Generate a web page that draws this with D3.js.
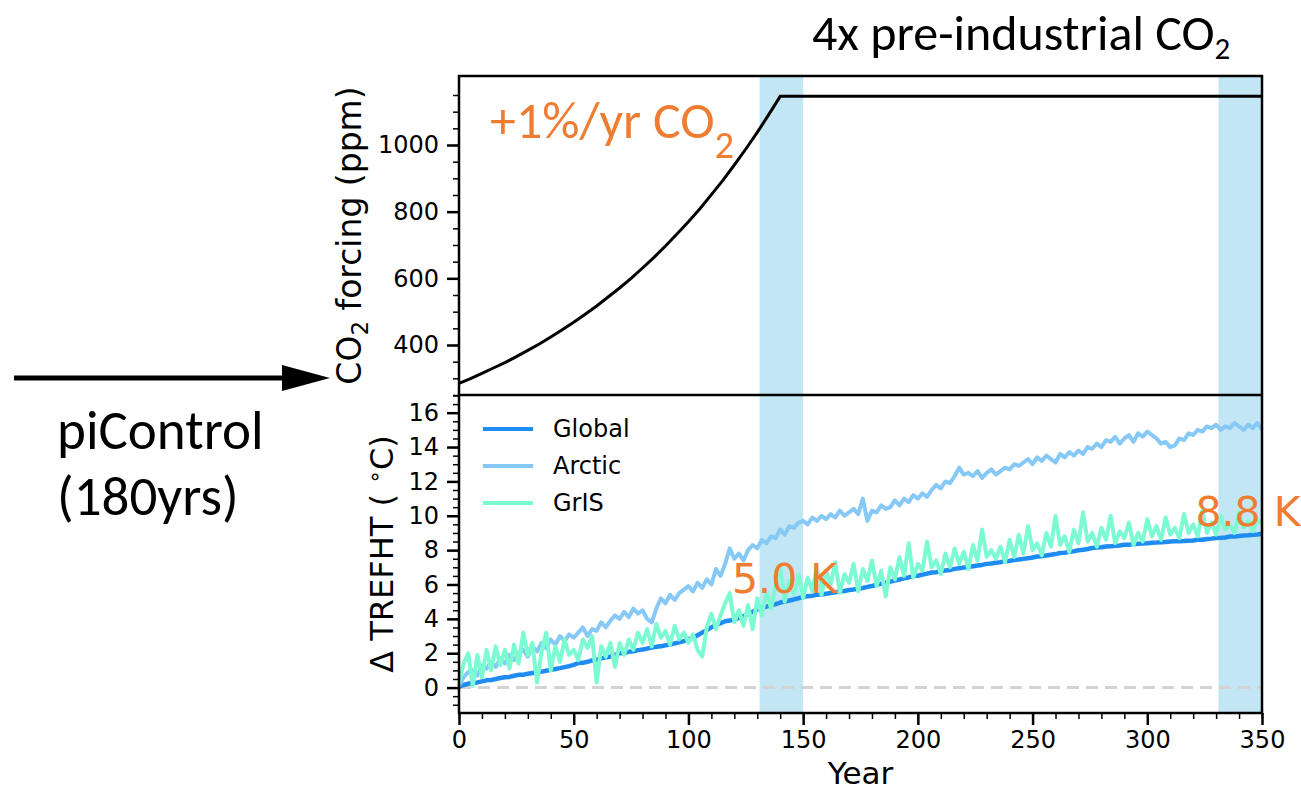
<!DOCTYPE html>
<html>
<head>
<meta charset="utf-8">
<script src="https://cdn.jsdelivr.net/npm/d3@7"></script>
<style>
  body { margin: 0; background: #fff; }
  svg { display: block; }
</style>
</head>
<body>
<div id="chart"></div>
<script>
// ---- data ----
var co2Years = [0, 5, 10, 15, 20, 25, 30, 35, 40, 45, 50, 55, 60, 65, 70, 75, 80, 85, 90, 95,
  100, 105, 110, 115, 120, 125, 130, 135, 140, 350];
var co2Ppm = [285, 299, 315, 331, 347, 365, 384, 403, 424, 446, 468, 492, 517, 544, 571, 600,
  631, 663, 697, 733, 770, 809, 851, 894, 940, 988, 1038, 1091, 1146, 1146];

// annual means sampled every 2 years (0, 2, ... 350)
var globalTemp = [
  0.05, 0.15, 0.22, 0.28, 0.3, 0.36, 0.42, 0.44, 0.5, 0.56, 0.6,
  0.62, 0.69, 0.74, 0.75, 0.81, 0.85, 0.88, 0.93, 0.98, 1.03, 1.08, 1.13, 1.19, 1.25, 1.32,
  1.43, 1.44, 1.5, 1.58, 1.61, 1.7, 1.76, 1.81, 1.9, 2.0, 2.01, 2.08, 2.11, 2.18, 2.21, 2.27, 2.33, 2.37, 2.4, 2.46, 2.5, 2.57, 2.63, 2.7, 2.8,
  2.9, 3.05, 3.2, 3.34, 3.5, 3.66, 3.74, 3.86, 3.9, 3.96, 4.06, 4.14, 4.3, 4.41, 4.54, 4.64, 4.71, 4.79, 4.86, 4.95, 5.01, 5.07, 5.13, 5.2, 5.28,
  5.31, 5.34, 5.41, 5.42, 5.46, 5.5, 5.54, 5.61, 5.62, 5.68, 5.71, 5.76, 5.8,
  5.86, 5.91, 6.0, 6.04, 6.11, 6.17, 6.23, 6.29, 6.36, 6.41, 6.49, 6.51, 6.58, 6.63, 6.7,
  6.71, 6.78, 6.81, 6.84, 6.91, 6.94, 6.99, 7.01, 7.06, 7.1, 7.14, 7.2, 7.22, 7.27,
  7.3, 7.36, 7.37, 7.43, 7.45, 7.49, 7.53, 7.57, 7.63, 7.65, 7.69, 7.73, 7.77, 7.83, 7.85, 7.9, 7.94, 7.99, 8.02, 8.07, 8.12,
  8.15, 8.17, 8.21, 8.22, 8.26, 8.27, 8.31, 8.32, 8.34, 8.37, 8.38, 8.4, 8.43, 8.44, 8.46, 8.47, 8.5, 8.51, 8.52, 8.53, 8.55,
  8.56, 8.6, 8.61, 8.65, 8.67, 8.71, 8.72, 8.74, 8.79, 8.8, 8.82, 8.85, 8.86, 8.89, 8.91, 8.95
];
var arcticTemp = [
  0.1, 0.6, 0.9, 1.0, 0.7, 1.3, 1.1, 1.5, 1.2, 1.7, 1.4,
  1.9, 1.6, 2.0, 2.2, 1.8, 2.4, 2.1, 2.6, 2.3, 2.8, 2.5, 3.0, 2.7, 3.1, 2.9,
  3.2, 3.5, 3.0, 3.4, 3.3, 3.8, 3.5, 3.9, 4.2, 4.0, 4.4, 4.1, 4.6, 4.3, 4.5, 4.0, 3.8, 4.6, 5.2, 4.9, 5.4, 5.1, 5.5, 5.7, 5.9,
  5.6, 6.1, 5.8, 6.3, 6.0, 6.9, 6.5, 7.2, 8.1, 7.5, 7.8, 7.4, 8.0, 8.3, 8.1, 8.6, 8.4, 8.8, 8.7, 9.2, 8.9, 9.4, 9.3, 9.6, 9.7,
  9.5, 9.9, 9.7, 10.0, 9.8, 10.1, 9.9, 10.3, 10.0, 10.2, 10.4, 10.1, 11.0,
  9.7, 10.3, 10.2, 10.6, 10.4, 10.5, 10.9, 10.6, 11.0, 10.8, 11.2, 11.0, 11.3, 11.1, 11.5,
  11.8, 11.6, 12.0, 11.9, 12.3, 12.8, 12.4, 12.5, 12.3, 12.6, 12.2, 12.5, 12.7, 12.4,
  12.6, 12.8, 12.7, 13.0, 12.9, 13.1, 13.3, 13.0, 13.4, 13.2, 13.5, 13.3, 13.1, 13.6, 13.4, 13.7, 13.5, 13.8, 13.6, 14.0, 13.9,
  14.2, 14.0, 14.4, 14.3, 14.6, 14.2, 14.5, 14.7, 14.3, 14.8, 14.6, 14.9, 14.7, 14.5, 14.2, 14.3, 14.0, 14.1, 14.5, 14.4, 14.8,
  14.7, 15.0, 14.9, 15.2, 15.1, 15.3, 15.0, 15.2, 15.1, 15.4, 15.2, 15.0, 15.3, 15.1, 15.4, 15.0
];
var grisTemp = [
  0.2, 1.4, 2.0, 0.1, 1.9, 0.6, 2.2, 1.0, 2.4, 1.3, 2.2,
  1.1, 2.5, 1.4, 3.2, 1.9, 2.6, 0.3, 2.1, 3.2, 1.0, 2.4, 1.5, 2.8, 1.9, 2.2,
  1.6, 2.8, 2.3, 3.0, 0.3, 2.4, 1.8, 2.6, 1.2, 2.6, 1.9, 2.8, 2.2, 3.2, 2.6, 3.4, 2.4, 3.7, 2.9, 3.3, 2.5, 3.6, 2.8, 3.2, 2.6,
  3.1, 2.2, 1.8, 3.5, 4.3, 3.4, 4.2, 4.9, 5.5, 3.8, 4.5, 3.6, 4.8, 3.4, 5.2, 4.2, 5.6, 4.6, 5.9, 7.1, 5.0, 6.2, 5.4, 6.6, 5.2,
  6.4, 5.6, 7.0, 5.4, 6.8, 6.0, 7.3, 5.5, 6.6, 6.1, 7.2, 5.6, 6.9,
  6.2, 7.4, 5.9, 6.8, 5.3, 7.0, 6.3, 7.6, 6.5, 8.4, 6.4, 7.2, 6.8, 8.5, 7.0,
  7.4, 6.6, 7.8, 7.0, 8.1, 7.2, 7.9, 6.9, 8.3, 7.4, 9.2, 7.6, 8.0, 7.5,
  8.2, 7.3, 8.6, 7.6, 8.9, 7.8, 9.4, 8.0, 8.4, 7.7, 9.0, 8.2, 10.0, 8.3, 8.8, 7.9, 9.2, 8.4, 10.2, 8.5, 9.0,
  8.2, 9.3, 8.6, 10.0, 8.4, 9.1, 8.7, 9.6, 8.3, 9.0, 8.5, 9.8, 8.8, 9.4, 8.6, 9.9, 8.9, 9.3, 8.7, 10.1, 9.0,
  9.5, 8.8, 10.3, 9.0, 9.6, 8.9, 10.0, 9.2, 9.5, 9.0, 10.2, 9.3, 9.7, 9.1, 9.8, 9.5
];

var seriesNames = ["Global", "Arctic", "GrIS"];
var seriesColors = ["#1e8cf0", "#86c8f6", "#7cfad2"];
var bandYears = [[131, 150], [331, 350]];

var yearTicks = [0, 50, 100, 150, 200, 250, 300, 350];
var co2Ticks = [400, 600, 800, 1000];
var tempTicks = [0, 2, 4, 6, 8, 10, 12, 14, 16];

var warmingLabels = [
  { text: "5.0 K", year: 119, value: 5.5 },
  { text: "8.8 K", year: 321, value: 9.4 }
];

// ---- layout ----
var width = 1301, height = 793;
var left = 459, right = 1262, topY = 76, midY = 395, bottomY = 713;
var orange = "#ef7d31";
var tickFont = "'DejaVu Sans', sans-serif";
var pptFont = "Carlito, Calibri, Lato, sans-serif";

var svg, x, yTop, yBot;

createSVG();
makeScales();
drawBands();
drawTopPanel();
drawBottomPanel();
drawAxes();
drawSpines();
drawLegend();
drawAnnotations();
drawPiControl();

function createSVG() {
  svg = d3.select("#chart")
    .append("svg")
    .attr("width", width)
    .attr("height", height);
}

function makeScales() {
  x = d3.scaleLinear().domain([0, 350]).range([left, right]);
  yTop = d3.scaleLinear().domain([250, 1207]).range([midY, topY]);
  yBot = d3.scaleLinear().domain([-1.48, 17.03]).range([bottomY, midY]);
}

function drawBands() {
  svg.selectAll(".band")
    .data(bandYears)
    .enter()
    .append("rect")
    .attr("class", "band")
    .attr("x", function(d) { return x(d[0]); })
    .attr("width", function(d) { return x(d[1]) - x(d[0]); })
    .attr("y", topY)
    .attr("height", bottomY - topY)
    .attr("fill", "#87ceeb")
    .attr("fill-opacity", 0.5);
}

function drawTopPanel() {
  var line = d3.line()
    .x(function(d, i) { return x(co2Years[i]); })
    .y(function(d) { return yTop(d); });

  svg.append("path")
    .datum(co2Ppm)
    .attr("d", line)
    .attr("fill", "none")
    .attr("stroke", "#000")
    .attr("stroke-width", 3)
    .attr("stroke-linejoin", "miter");
}

function drawBottomPanel() {
  // zero reference
  svg.append("line")
    .attr("x1", x(0))
    .attr("x2", x(350))
    .attr("y1", yBot(0))
    .attr("y2", yBot(0))
    .attr("stroke", "#d3d3d3")
    .attr("stroke-width", 3)
    .attr("stroke-dasharray", "12,7");

  var line = d3.line()
    .x(function(d, i) { return x(i * 2); })
    .y(function(d) { return yBot(d); });

  var series = [globalTemp, arcticTemp, grisTemp];
  svg.selectAll(".temp")
    .data(series)
    .enter()
    .append("path")
    .attr("class", "temp")
    .attr("d", line)
    .attr("fill", "none")
    .attr("stroke", function(d, i) { return seriesColors[i]; })
    .attr("stroke-width", function(d, i) { return i == 0 ? 4.5 : 4; })
    .attr("stroke-linejoin", "round");
}

function styleAxis(g, major) {
  g.select(".domain").remove();
  g.selectAll(".tick line")
    .attr("stroke", "#000")
    .attr("stroke-width", major ? 2.5 : 1.5);
  g.selectAll(".tick text")
    .attr("fill", "#000")
    .style("font-family", tickFont)
    .style("font-size", "24px");
}

function drawAxes() {
  // top panel y
  svg.append("g")
    .attr("transform", "translate(" + left + ",0)")
    .call(d3.axisLeft(yTop).tickValues(d3.range(250, 1200, 50)).tickSize(6).tickFormat(""))
    .call(styleAxis, false);
  svg.append("g")
    .attr("transform", "translate(" + left + ",0)")
    .call(d3.axisLeft(yTop).tickValues(co2Ticks).tickSize(12).tickPadding(8).tickFormat(d3.format("d")))
    .call(styleAxis, true);

  // bottom panel y
  svg.append("g")
    .attr("transform", "translate(" + left + ",0)")
    .call(d3.axisLeft(yBot).tickValues(d3.range(-1, 17.01, 0.5)).tickSize(6).tickFormat(""))
    .call(styleAxis, false);
  svg.append("g")
    .attr("transform", "translate(" + left + ",0)")
    .call(d3.axisLeft(yBot).tickValues(tempTicks).tickSize(12).tickPadding(8).tickFormat(d3.format("d")))
    .call(styleAxis, true);

  // x axis
  svg.append("g")
    .attr("transform", "translate(0," + bottomY + ")")
    .call(d3.axisBottom(x).tickValues(d3.range(0, 351, 10)).tickSize(6).tickFormat(""))
    .call(styleAxis, false);
  svg.append("g")
    .attr("transform", "translate(0," + bottomY + ")")
    .call(d3.axisBottom(x).tickValues(yearTicks).tickSize(12).tickPadding(6).tickFormat(d3.format("d")))
    .call(styleAxis, true);

  // axis titles
  svg.append("text")
    .attr("x", (left + right) / 2)
    .attr("y", 784)
    .attr("text-anchor", "middle")
    .style("font-family", tickFont)
    .style("font-size", "31px")
    .text("Year");

  var co2Label = svg.append("text")
    .attr("transform", "translate(361," + ((topY + midY) / 2) + ") rotate(-90)")
    .attr("text-anchor", "middle")
    .style("font-family", tickFont)
    .style("font-size", "33px");
  co2Label.append("tspan").text("CO");
  co2Label.append("tspan").attr("dy", 7).style("font-size", "23px").text("2");
  co2Label.append("tspan").attr("dy", -7).text(" forcing (ppm)");

  var tLabel = svg.append("text")
    .attr("transform", "translate(393," + ((midY + bottomY) / 2) + ") rotate(-90)")
    .attr("text-anchor", "middle")
    .style("font-family", tickFont)
    .style("font-size", "32px");
  tLabel.append("tspan").text("\u0394 TREFHT ( ");
  tLabel.append("tspan").attr("dy", -11).style("font-size", "22px").text("\u2218");
  tLabel.append("tspan").attr("dy", 11).text("C)");
}

function drawSpines() {
  svg.append("rect")
    .attr("x", left)
    .attr("y", topY)
    .attr("width", right - left)
    .attr("height", bottomY - topY)
    .attr("fill", "none")
    .attr("stroke", "#000")
    .attr("stroke-width", 2.5);
  svg.append("line")
    .attr("x1", left)
    .attr("x2", right)
    .attr("y1", midY)
    .attr("y2", midY)
    .attr("stroke", "#000")
    .attr("stroke-width", 2.5);
}

function drawLegend() {
  var legend = svg.selectAll(".legend")
    .data(seriesNames)
    .enter()
    .append("g")
    .attr("class", "legend")
    .attr("transform", function(d, i) { return "translate(483," + (429 + i * 37) + ")"; });

  legend.append("line")
    .attr("x1", 0)
    .attr("x2", 50)
    .attr("stroke", function(d, i) { return seriesColors[i]; })
    .attr("stroke-width", 4);

  legend.append("text")
    .attr("x", 70)
    .attr("dy", "0.35em")
    .style("font-family", tickFont)
    .style("font-size", "24px")
    .text(function(d) { return d; });
}

function drawAnnotations() {
  svg.selectAll(".warming")
    .data(warmingLabels)
    .enter()
    .append("text")
    .attr("class", "warming")
    .attr("x", function(d) { return x(d.year); })
    .attr("y", function(d) { return yBot(d.value); })
    .attr("fill", orange)
    .style("font-family", tickFont)
    .style("font-size", "41px")
    .text(function(d) { return d.text; });

  var ramp = svg.append("text")
    .attr("x", 490)
    .attr("y", 138)
    .attr("fill", orange)
    .style("font-family", pptFont)
    .style("font-size", "52px");
  ramp.append("tspan").text("+1%/yr CO");
  ramp.append("tspan").attr("dy", 20).style("font-size", "38px").text("2");

  var title = svg.append("text")
    .attr("x", 812)
    .attr("y", 50)
    .attr("fill", "#000")
    .style("font-family", pptFont)
    .style("font-size", "50px");
  title.append("tspan").text("4x pre-industrial CO");
  title.append("tspan").attr("dy", 9).style("font-size", "31px").text("2");
}

function drawPiControl() {
  svg.append("line")
    .attr("x1", 14)
    .attr("x2", 290)
    .attr("y1", 378)
    .attr("y2", 378)
    .attr("stroke", "#000")
    .attr("stroke-width", 5);
  svg.append("path")
    .attr("d", "M282,365 L330,378 L282,391 Z")
    .attr("fill", "#000");

  svg.append("text")
    .attr("x", 57)
    .attr("y", 449)
    .style("font-family", pptFont)
    .style("font-size", "55px")
    .text("piControl");
  svg.append("text")
    .attr("x", 57)
    .attr("y", 515)
    .style("font-family", pptFont)
    .style("font-size", "55px")
    .text("(180yrs)");
}
</script>
</body>
</html>
